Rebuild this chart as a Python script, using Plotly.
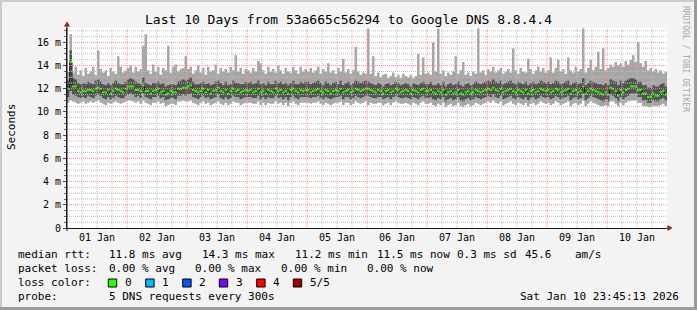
import plotly.graph_objects as go
import pandas as pd

# ---------------- data (hourly, 01 Jan 00:00 .. 10 Jan 23:00) ----------------
start_time = "2026-01-01 00:00"
n_hours = 240

ping_min = [
    10.8,11.0,10.9,10.8,10.7,10.8,10.9,10.7,10.8,10.9,10.8,10.9,11.0,10.8,10.7,10.6,10.8,10.7,10.8,10.9,10.8,10.7,10.8,10.9,
    11.0,11.0,10.9,10.8,10.9,10.7,11.0,10.8,10.7,10.6,10.8,10.8,10.9,10.7,10.8,10.5,10.6,10.7,10.7,10.6,10.9,10.9,11.0,10.9,
    10.9,11.0,10.8,10.7,10.6,10.8,10.9,10.7,10.8,10.6,10.7,10.8,10.9,10.7,10.6,10.8,10.6,10.7,10.9,10.8,10.8,10.6,10.7,10.8,
    10.8,10.8,10.7,10.7,10.9,10.6,10.8,10.6,10.8,10.7,10.7,10.9,10.7,10.8,10.6,10.8,10.5,10.8,10.9,10.7,10.6,10.8,10.8,10.8,
    10.8,10.7,10.8,10.8,10.9,10.7,10.6,10.8,10.7,10.6,10.7,10.8,10.8,10.9,10.6,10.8,10.8,10.6,10.7,10.9,10.8,10.7,10.8,10.9,
    10.6,10.8,10.7,10.7,10.8,10.8,10.6,10.7,10.8,10.6,10.8,10.9,10.8,10.7,10.7,10.8,10.7,10.6,10.8,10.7,10.6,10.8,10.9,10.7,
    10.7,10.8,10.6,10.5,10.7,10.6,10.8,10.4,10.6,10.7,10.5,10.6,10.8,10.5,10.4,10.6,10.7,10.5,10.6,10.8,10.7,10.6,10.7,10.8,
    10.9,10.8,11.0,10.8,10.7,10.9,10.6,10.7,10.8,10.9,10.7,10.6,10.8,10.7,10.6,10.8,10.5,10.7,10.8,10.6,10.7,10.9,10.8,10.7,
    10.8,10.6,10.7,10.9,10.8,10.6,10.7,10.8,10.9,10.5,10.7,10.8,10.6,10.7,11.0,10.5,10.7,10.9,10.8,10.7,10.6,10.5,10.5,10.6,
    10.5,10.9,10.9,10.7,10.5,10.8,10.6,10.8,10.9,11.0,11.0,11.0,10.8,10.8,10.5,10.5,10.4,10.4,10.5,10.5,10.5,10.6,10.7,10.5,
]
ping_q1 = [
    11.3,11.8,11.5,11.4,11.3,11.2,11.3,11.2,11.4,11.3,11.2,11.4,11.5,11.4,11.2,11.1,11.3,11.1,11.2,11.4,11.3,11.2,11.2,11.4,
    11.5,11.6,11.5,11.3,11.4,11.2,11.6,11.3,11.2,11.1,11.3,11.3,11.4,11.2,11.3,11.0,11.1,11.2,11.2,11.1,11.4,11.4,11.5,11.4,
    11.5,11.6,11.3,11.2,11.1,11.3,11.4,11.2,11.3,11.1,11.2,11.3,11.5,11.2,11.1,11.3,11.1,11.2,11.4,11.3,11.3,11.1,11.2,11.3,
    11.3,11.3,11.2,11.2,11.4,11.1,11.3,11.1,11.3,11.2,11.2,11.4,11.2,11.3,11.1,11.3,11.0,11.3,11.4,11.2,11.1,11.3,11.3,11.3,
    11.3,11.2,11.3,11.3,11.4,11.2,11.1,11.3,11.2,11.1,11.2,11.3,11.3,11.4,11.1,11.3,11.3,11.1,11.2,11.4,11.3,11.2,11.3,11.4,
    11.4,11.3,11.2,11.2,11.3,11.3,11.1,11.2,11.3,11.1,11.3,11.4,11.3,11.2,11.2,11.3,11.2,11.1,11.3,11.2,11.1,11.3,11.4,11.2,
    11.2,11.3,11.1,11.0,11.2,11.1,11.3,10.9,11.1,11.2,11.0,11.1,11.3,11.0,10.9,11.1,11.2,11.0,11.1,11.3,11.2,11.1,11.2,11.3,
    11.4,11.3,11.5,11.3,11.2,11.4,11.1,11.2,11.3,11.4,11.2,11.1,11.3,11.2,11.1,11.3,11.0,11.2,11.3,11.1,11.2,11.4,11.3,11.2,
    11.3,11.1,11.2,11.4,11.3,11.1,11.2,11.3,11.4,11.0,11.2,11.3,11.1,11.2,11.6,11.0,11.2,11.4,11.3,11.2,11.1,11.0,10.9,11.1,
    10.9,11.5,11.4,11.2,10.9,11.3,11.1,11.3,11.4,11.6,11.6,11.6,11.3,11.3,11.0,11.0,10.8,10.8,11.0,10.9,10.9,11.1,11.2,11.0,
]
ping_median = [
    12.0,14.3,12.2,12.2,11.8,11.7,11.8,11.8,11.9,11.9,11.8,12.0,12.1,12.0,11.7,11.7,11.9,11.6,11.8,12.0,11.9,11.8,11.7,12.0,
    12.2,12.2,12.2,11.9,11.9,11.8,12.3,11.8,11.8,11.6,11.8,11.9,12.0,11.7,11.8,11.5,11.6,11.8,11.7,11.7,12.0,12.0,12.1,12.1,
    12.2,12.3,11.9,11.8,11.7,11.8,12.0,11.7,11.9,11.6,11.8,11.9,12.1,11.8,11.7,11.9,11.6,11.8,12.0,11.8,11.9,11.7,11.8,11.9,
    11.8,11.9,11.7,11.8,12.0,11.7,11.8,11.6,11.9,11.8,11.7,12.0,11.8,11.9,11.7,11.8,11.6,11.9,12.0,11.8,11.7,11.9,11.8,11.9,
    11.9,11.7,11.8,11.9,12.0,11.8,11.7,11.9,11.8,11.6,11.8,11.9,11.8,12.0,11.7,11.8,11.9,11.7,11.8,12.0,11.9,11.8,11.9,12.0,
    12.0,11.9,11.8,11.7,11.9,11.8,11.6,11.8,11.9,11.7,11.8,12.0,11.9,11.7,11.8,11.9,11.8,11.6,11.9,11.8,11.7,11.9,12.0,11.8,
    11.8,11.9,11.7,11.6,11.8,11.7,11.9,11.5,11.7,11.8,11.6,11.7,11.9,11.6,11.5,11.7,11.8,11.6,11.7,11.9,11.8,11.7,11.8,11.9,
    12.0,11.9,12.1,11.9,11.8,12.0,11.7,11.8,11.9,12.0,11.8,11.7,11.9,11.8,11.7,11.9,11.6,11.8,11.9,11.7,11.8,12.0,11.9,11.8,
    11.9,11.7,11.8,12.0,11.9,11.7,11.8,11.9,12.0,11.6,11.8,11.9,11.7,11.8,12.2,11.6,11.8,12.0,11.9,11.8,11.7,11.6,11.5,11.7,
    11.5,12.1,12.0,11.8,11.4,11.9,11.7,11.9,12.0,12.2,12.2,12.2,11.9,11.9,11.6,11.6,11.3,11.3,11.6,11.4,11.4,11.7,11.8,11.5,
]
ping_q3 = [
    12.7,15.3,12.9,12.8,12.5,12.4,12.5,12.4,12.6,12.5,12.4,12.7,12.8,12.6,12.4,12.3,12.5,12.3,12.5,12.7,12.5,12.4,12.4,12.6,
    12.8,12.9,12.8,12.6,12.5,12.4,13.0,12.5,12.4,12.3,12.5,12.5,12.6,12.4,12.5,12.2,12.3,12.4,12.4,12.3,12.6,12.7,12.8,12.7,
    12.8,13.0,12.6,12.4,12.4,12.5,12.6,12.4,12.5,12.3,12.4,12.6,12.7,12.5,12.3,12.6,12.3,12.4,12.7,12.5,12.5,12.4,12.4,12.6,
    12.5,12.6,12.4,12.5,12.7,12.4,12.5,12.3,12.6,12.4,12.4,12.7,12.5,12.6,12.4,12.5,12.3,12.5,12.7,12.4,12.4,12.6,12.5,12.6,
    12.6,12.4,12.5,12.6,12.7,12.5,12.3,12.6,12.5,12.3,12.5,12.6,12.4,12.7,12.3,12.5,12.6,12.3,12.5,12.7,12.6,12.5,12.6,12.7,
    12.6,12.5,12.4,12.3,12.5,12.4,12.2,12.4,12.5,12.3,12.4,12.6,12.5,12.3,12.4,12.5,12.4,12.2,12.5,12.4,12.3,12.5,12.6,12.4,
    12.4,12.6,12.3,12.3,12.5,12.3,12.6,12.2,12.4,12.5,12.3,12.4,12.6,12.3,12.2,12.4,12.5,12.3,12.4,12.6,12.5,12.4,12.5,12.6,
    12.7,12.6,12.8,12.6,12.5,12.7,12.4,12.5,12.6,12.7,12.5,12.4,12.6,12.5,12.4,12.6,12.3,12.5,12.6,12.4,12.5,12.7,12.6,12.5,
    12.6,12.4,12.5,12.7,12.6,12.4,12.5,12.6,12.7,12.3,12.5,12.6,12.4,12.5,12.9,12.3,12.5,12.7,12.6,12.5,12.4,12.4,12.3,12.5,
    12.3,12.8,12.7,12.6,12.3,12.7,12.5,12.7,12.8,12.9,12.9,12.8,12.6,12.6,12.3,12.3,12.1,12.1,12.3,12.2,12.2,12.4,12.5,12.2,
]
ping_max = [
    13.5,16.7,13.4,13.9,13.2,13.6,13.1,13.8,13.3,13.5,13.9,13.2,15.3,13.7,13.4,13.6,13.1,13.8,13.5,13.3,14.8,13.9,13.4,13.6,
    13.8,14.0,13.4,13.9,13.5,13.7,15.7,16.7,13.6,13.3,14.1,13.5,13.9,13.2,13.8,13.6,15.7,13.4,13.9,14.1,13.5,13.7,13.8,14.8,
    13.7,13.9,13.3,13.6,14.0,13.4,13.8,13.2,13.9,13.5,13.6,14.1,13.3,13.8,13.5,13.7,13.4,13.9,13.6,14.9,13.5,13.8,13.3,13.7,
    13.6,13.4,13.8,13.5,14.4,14.2,13.6,13.3,13.9,13.5,13.7,13.4,14.0,13.6,13.3,13.8,13.5,13.4,13.9,13.6,13.3,13.9,13.5,13.7,
    13.5,13.8,13.4,13.6,13.9,13.3,13.7,13.5,14.2,13.4,13.6,13.3,13.8,13.5,14.6,13.4,13.7,13.3,13.6,15.6,13.5,13.2,13.4,13.3,
    17.2,13.3,14.8,13.1,13.4,13.0,13.2,13.3,12.9,13.1,13.4,13.0,13.2,12.9,13.3,13.1,13.0,13.2,12.9,13.1,15.0,13.2,14.7,13.3,
    13.4,13.2,16.0,13.5,17.2,13.3,13.6,13.1,13.4,13.2,13.5,14.8,13.3,13.6,14.3,13.2,13.4,13.1,13.5,13.3,17.2,13.4,13.6,13.2,
    13.7,13.5,13.9,13.4,13.6,13.8,13.3,13.5,13.7,13.4,15.5,13.6,13.3,13.8,13.5,13.4,14.6,13.7,13.3,13.6,13.9,13.5,13.8,13.4,
    13.6,14.7,13.4,13.8,14.5,13.5,13.7,13.3,14.7,13.6,13.4,13.9,13.5,13.7,17.2,13.4,13.8,14.5,13.6,13.9,15.2,13.7,15.5,13.6,
    13.8,14.1,13.9,14.3,14.0,14.2,13.9,14.4,14.1,14.5,14.9,14.3,16.0,14.2,13.9,14.4,13.6,13.8,13.5,13.7,13.4,13.6,13.3,13.5,
]

y_tick_values = [0, 2, 4, 6, 8, 10, 12, 14, 16]
y_tick_labels = ["0", "2 m", "4 m", "6 m", "8 m", "10 m", "12 m", "14 m", "16 m"]

title_text = "Last 10 Days from 53a665c56294 to Google DNS 8.8.4.4"
legend_rows = [
    # (y px, [(x px, text), ...])
    (254.7, [(16, "median rtt:"), (107, "11.8 ms avg"), (200, "14.3 ms max"), (292.7, "11.2 ms min"),
             (375, "11.5 ms now"), (455, "0.3 ms sd"), (523, "45.6"), (573, "am/s")]),
    (268.3, [(16, "packet loss:"), (107, "0.00 % avg"), (193.3, "0.00 % max"), (279.3, "0.00 % min"),
             (365, "0.00 % now")]),
    (282.7, [(16, "loss color:")]),
    (296.0, [(16, "probe:"), (107.3, "5 DNS requests every 300s")]),
]
loss_labels = ["0", "1", "2", "3", "4", "5/5"]
loss_colors = ["#26ff00", "#00b8ff", "#0059ff", "#7e00ff", "#ff0000", "#a10000"]
loss_box_x = [108.3, 145.7, 182.7, 219.3, 256.7, 293.3]
date_text = "Sat Jan 10 23:45:13 2026"

# ---------------- geometry ----------------
W, H = 697, 310
L, R, T, B = 67, 667, 28, 228
YMAX = 17.24
MONO = "DejaVu Sans Mono"
LEG_SIZE = 11


def px(x):
    return (x - L) / (R - L)


def py(y):
    return (B - y) / (B - T)


hours = pd.date_range(start_time, periods=n_hours, freq="h")
xs = list(hours) + [hours[-1] + pd.Timedelta(hours=1)]


def ext(v):
    return list(v) + [v[-1]]


fig = go.Figure()
common = dict(mode="lines", hoverinfo="skip", showlegend=False)
fig.add_trace(go.Scatter(x=xs, y=ext(ping_min), line=dict(width=0, shape="hv"), **common))
fig.add_trace(go.Scatter(x=xs, y=ext(ping_max), line=dict(width=0, shape="hv"),
                         fill="tonexty", fillcolor="#a6a6a6", **common))
fig.add_trace(go.Scatter(x=xs, y=ext(ping_q1), line=dict(width=0, shape="hv"), **common))
fig.add_trace(go.Scatter(x=xs, y=ext(ping_q3), line=dict(width=0, shape="hv"),
                         fill="tonexty", fillcolor="#535353", **common))
fig.add_trace(go.Scatter(x=xs, y=ext(ping_median), line=dict(width=1, shape="hv", color="#1e1e1e"), **common))
gx, gy = [], []
for i in range(n_hours):
    gx += [xs[i], xs[i + 1], None]
    gy += [ping_median[i], ping_median[i], None]
fig.add_trace(go.Scatter(x=gx, y=gy, line=dict(width=2, color=loss_colors[0]), connectgaps=False, **common))

shapes = []
DASH = "1px,1px"
# minor grid
t0 = hours[0]
for k in range(1, 40):
    if k % 4 == 0:
        continue
    tx = t0 + pd.Timedelta(hours=6 * k)
    shapes.append(dict(type="line", xref="x", yref="paper", x0=tx, x1=tx, y0=0, y1=1,
                       line=dict(color="#bdbdbd", width=1, dash=DASH), layer="above"))
yv = 0.5
while yv < YMAX:
    if abs(yv / 2 - round(yv / 2)) > 1e-6:
        shapes.append(dict(type="line", xref="paper", yref="y", x0=0, x1=1, y0=yv, y1=yv,
                           line=dict(color="#bdbdbd", width=1, dash=DASH), layer="above"))
    yv += 0.5
# major grid
for k in range(1, 10):
    tx = t0 + pd.Timedelta(days=k)
    shapes.append(dict(type="line", xref="x", yref="paper", x0=tx, x1=tx, y0=0, y1=1,
                       line=dict(color="#ff8a8a", width=1, dash=DASH), layer="above"))
for v in y_tick_values[1:]:
    shapes.append(dict(type="line", xref="paper", yref="y", x0=0, x1=1, y0=v, y1=v,
                       line=dict(color="#ff8a8a", width=1, dash=DASH), layer="above"))

# axis extensions and arrows
AX = "#1a1a1a"
ARR = "#9a1c1c"
shapes.append(dict(type="line", xref="paper", yref="paper", x0=px(R), x1=px(670), y0=0, y1=0,
                   line=dict(color=AX, width=1), layer="above"))
shapes.append(dict(type="line", xref="paper", yref="paper", x0=0, x1=0, y0=py(231), y1=py(25),
                   line=dict(color=AX, width=1), layer="above"))
shapes.append(dict(type="path", xref="paper", yref="paper",
                   path=f"M {px(672.5)} {py(228)} L {px(667.5)} {py(225)} L {px(667.5)} {py(231)} Z",
                   fillcolor=ARR, line=dict(width=0), layer="above"))
shapes.append(dict(type="path", xref="paper", yref="paper",
                   path=f"M {px(67)} {py(21.5)} L {px(64)} {py(26.5)} L {px(70)} {py(26.5)} Z",
                   fillcolor=ARR, line=dict(width=0), layer="above"))

# legend boxes
for bx, col in zip(loss_box_x, loss_colors):
    shapes.append(dict(type="rect", xref="paper", yref="paper",
                       x0=px(bx), x1=px(bx + 8.4), y0=py(279), y1=py(287),
                       fillcolor=col, line=dict(color="#000000", width=1), layer="above"))

# frame
shapes.append(dict(type="rect", xref="paper", yref="paper", x0=px(0), x1=px(697), y0=py(0), y1=py(2),
                   fillcolor="#cbcbcb", line=dict(width=0), layer="above"))
shapes.append(dict(type="rect", xref="paper", yref="paper", x0=px(0), x1=px(2), y0=py(0), y1=py(310),
                   fillcolor="#cbcbcb", line=dict(width=0), layer="above"))
shapes.append(dict(type="rect", xref="paper", yref="paper", x0=px(0), x1=px(697), y0=py(307), y1=py(310),
                   fillcolor="#9b9b9b", line=dict(width=0), layer="above"))
shapes.append(dict(type="rect", xref="paper", yref="paper", x0=px(694), x1=px(697), y0=py(0), y1=py(310),
                   fillcolor="#9b9b9b", line=dict(width=0), layer="above"))

ann = []


def text(x, y, s, size=LEG_SIZE, anchor="left", color="#000000", angle=0):
    ann.append(dict(xref="paper", yref="paper", x=px(x), y=py(y), text=s, showarrow=False,
                    xanchor=anchor, yanchor="middle", textangle=angle,
                    font=dict(family=MONO, size=size, color=color)))


text(348, 19, title_text, size=13, anchor="center")
text(11, 127, "Seconds", size=11, anchor="center", angle=-90)
text(686, 59, "RRDTOOL / TOBI OETIKER", size=8, anchor="center", color="#a8a8a8", angle=90)
for yrow, chunks in legend_rows:
    for xc, s in chunks:
        text(xc, yrow, s)
for bx, lab in zip(loss_box_x, loss_labels):
    text(bx + 14.5, 282.7, lab)
text(681, 296.0, date_text, anchor="right")

fig.update_layout(
    width=W, height=H, autosize=False,
    margin=dict(l=L, r=W - R, t=T, b=H - B, pad=0),
    paper_bgcolor="#f3f3f3", plot_bgcolor="#ffffff",
    shapes=shapes, annotations=ann, showlegend=False,
    xaxis=dict(type="date", range=[xs[0], xs[-1]], showgrid=False, zeroline=False,
               tickformat="%d %b", dtick=86400000, tick0=start_time, ticklabelmode="period",
               ticks="", showline=True, linecolor=AX, linewidth=1,
               tickfont=dict(family=MONO, size=10, color="#000000"), fixedrange=True),
    yaxis=dict(range=[0, YMAX], showgrid=False, zeroline=False,
               tickmode="array", tickvals=y_tick_values, ticktext=y_tick_labels,
               ticks="outside", ticklen=3, tickcolor="#444444",
               minor=dict(tickmode="array", tickvals=[v * 0.5 for v in range(1, 35)],
                          ticks="outside", ticklen=2, tickcolor="#666666", showgrid=False),
               showline=True, linecolor=AX, linewidth=1,
               tickfont=dict(family=MONO, size=10, color="#000000"), fixedrange=True),
)

fig.write_html("out.html")
